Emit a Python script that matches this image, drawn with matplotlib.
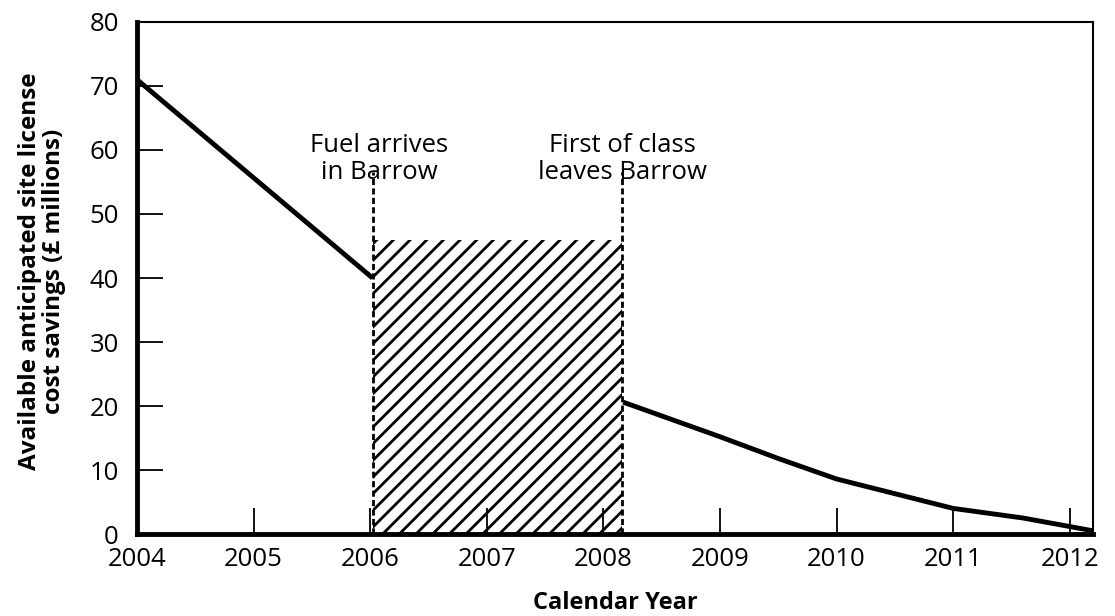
import matplotlib
matplotlib.use('Agg')
import matplotlib.pyplot as plt

# data
years_before = [2004.0, 2006.02]
savings_before = [71, 40]
years_after = [2008.17, 2009.0, 2009.5, 2010.0, 2011.0, 2011.6, 2012.2]
savings_after = [20.6, 15.2, 11.8, 8.6, 4.0, 2.5, 0.5]

fuel_arrives = 2006.02
first_leaves = 2008.16
hatch_top = 46
marker_top = 56.5

year_ticks = [2004, 2005, 2006, 2007, 2008, 2009, 2010, 2011, 2012]
y_ticks = [0, 10, 20, 30, 40, 50, 60, 70, 80]

plt.rcParams['font.family'] = ['Open Sans', 'DejaVu Sans']
plt.rcParams['hatch.linewidth'] = 2.0

fig = plt.figure(figsize=(11.15, 6.16), dpi=100)
ax = fig.add_axes([0.1229, 0.1331, 0.8574, 0.8312])

# hatched block between the two events
ax.fill_between([fuel_arrives, first_leaves], 0, hatch_top,
                facecolor='white', edgecolor='black', hatch='//', linewidth=0)

ax.plot(years_before, savings_before, color='black', lw=3.5, solid_capstyle='butt')
ax.plot(years_after, savings_after, color='black', lw=3.5, solid_capstyle='butt')

for xv in (fuel_arrives, first_leaves):
    ax.plot([xv, xv], [0, marker_top], color='black', lw=2, ls=(0, (2.2, 1.2)))

ax.text(fuel_arrives + 0.06, 58.6, 'Fuel arrives\nin Barrow', ha='center', va='center',
        fontsize=18.5, linespacing=1.15)
ax.text(first_leaves, 58.6, 'First of class\nleaves Barrow', ha='center', va='center',
        fontsize=18.5, linespacing=1.15)

ax.set_xlim(2004, 2012.2)
ax.set_ylim(0, 80)
ax.set_xticks(year_ticks)
ax.set_xticklabels([str(y) for y in year_ticks])
ax.set_yticks(y_ticks)

ax.tick_params(axis='both', direction='in', labelsize=18.5, width=1.3, color='black')
ax.tick_params(axis='y', length=19, pad=13)
ax.tick_params(axis='x', length=19, pad=9)

ax.spines['left'].set_linewidth(3.5)
ax.spines['bottom'].set_linewidth(3.5)
ax.spines['top'].set_linewidth(1.5)
ax.spines['right'].set_linewidth(1.5)

fig.text(42 / 1115, 1 - 271 / 616, 'Available anticipated site license\ncost savings (£ millions)',
         rotation=90, ha='center', va='center', fontsize=17.5, fontweight='bold',
         multialignment='center', linespacing=1.05)
fig.text(615 / 1115, 1 - 603 / 616, 'Calendar Year', ha='center', va='center',
         fontsize=17, fontweight='bold')

fig.savefig('out.png', dpi=100)
